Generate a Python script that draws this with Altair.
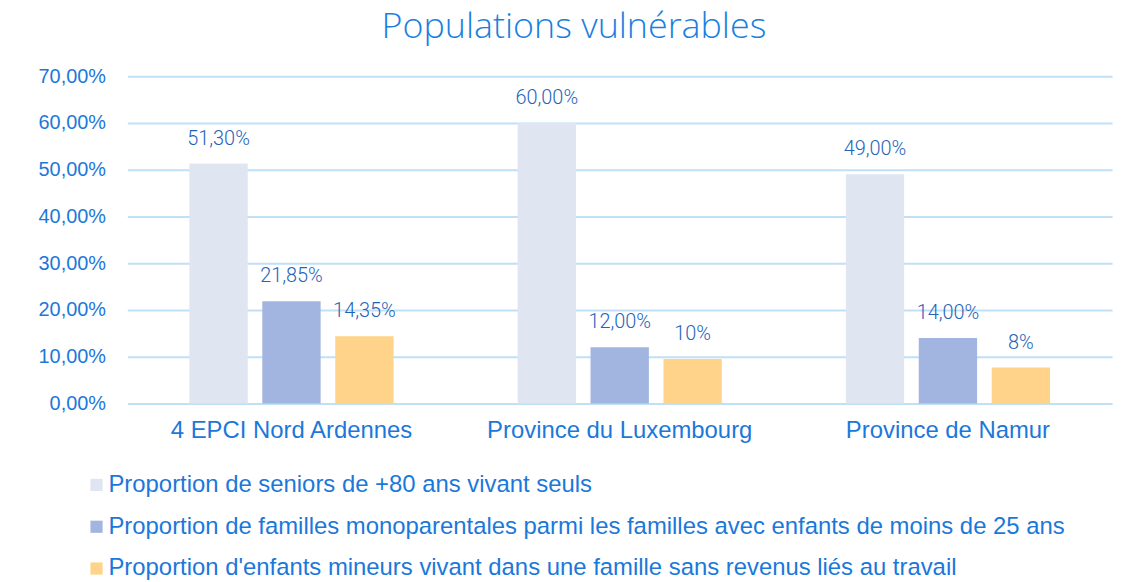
import altair as alt
import pandas as pd

categories = ["4 EPCI Nord Ardennes", "Province du Luxembourg", "Province de Namur"]
series = [
    "Proportion de seniors de +80 ans vivant seuls",
    "Proportion de familles monoparentales parmi les familles avec enfants de moins de 25 ans",
    "Proportion d'enfants mineurs vivant dans une famille sans revenus liés au travail",
]
seniors = [0.5130, 0.60, 0.49]
monoparentales = [0.2185, 0.12, 0.14]
enfants = [0.1435, 0.095, 0.077]
label_seniors = ["51,30%", "60,00%", "49,00%"]
label_mono = ["21,85%", "12,00%", "14,00%"]
label_enfants = ["14,35%", "10%", "8%"]
colors = ["#DFE6F1", "#A2B5E0", "#FFD389"]

rows = []
for vals, labs, s in [(seniors, label_seniors, series[0]),
                      (monoparentales, label_mono, series[1]),
                      (enfants, label_enfants, series[2])]:
    for c, v, l in zip(categories, vals, labs):
        rows.append({"cat": c, "serie": s, "value": v, "label": l})
df = pd.DataFrame(rows)

x = alt.X("cat:N", sort=categories, title=None,
          scale=alt.Scale(paddingInner=0, paddingOuter=0),
          axis=alt.Axis(labelAngle=0, labelFont="Liberation Sans", labelFontSize=24,
                        labelColor="#1B78DA", labelPadding=15, ticks=False, domain=False,
                        grid=False, labelLimit=0))
xo = alt.XOffset("serie:N", sort=series,
                 scale=alt.Scale(paddingInner=0.2, paddingOuter=0.85))
y = alt.Y("value:Q", title=None,
          scale=alt.Scale(domain=[0, 0.7]),
          axis=alt.Axis(values=[0, 0.1, 0.2, 0.3, 0.4, 0.5, 0.6, 0.7],
                        labelExpr="replace(format(datum.value, '.2%'), '.', ',')",
                        labelFont="Liberation Sans", labelFontSize=20, labelColor="#1B78DA",
                        labelPadding=22, ticks=False, domain=False,
                        gridColor="#BFE0F7", gridWidth=2))

bars = alt.Chart(df).mark_bar().encode(
    x=x, xOffset=xo, y=y,
    color=alt.Color("serie:N", sort=series,
                    scale=alt.Scale(domain=series, range=colors),
                    legend=alt.Legend(title=None, orient="none", legendX=-43, legendY=399,
                                      direction="vertical", symbolType="square",
                                      symbolSize=150, symbolStrokeWidth=0,
                                      labelFont="Liberation Sans", labelFontSize=24,
                                      labelColor="#1B78DA", labelLimit=0, rowPadding=18,
                                      labelOffset=0)),
)

text = alt.Chart(df).mark_text(baseline="bottom", dy=-15, font="Roboto", fontSize=20,
                               fontWeight=300, color="#1F64B8").encode(
    x=alt.X("cat:N", sort=categories), xOffset=alt.XOffset("serie:N", sort=series),
    y="value:Q", text="label:N")

chart = (bars + text).properties(
    width=990, height=329,
    title=alt.TitleParams("Populations vulnérables", font="Open Sans", fontSize=36,
                          fontWeight=300, color="#1A7FE0", anchor="middle", offset=20,
                          dx=-46),
    autosize=alt.AutoSizeParams(type="none"),
    padding={"left": 120, "top": 67, "right": 10, "bottom": 178},
).configure_view(stroke=None)

chart.save("out.html", embed_options={"renderer": "svg", "actions": False})
